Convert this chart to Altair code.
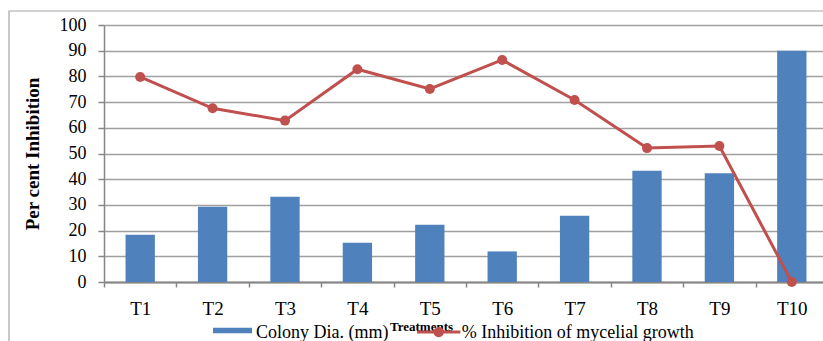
import altair as alt
import pandas as pd

treatments = ["T1", "T2", "T3", "T4", "T5", "T6", "T7", "T8", "T9", "T10"]
colony_dia = [18.4, 29.3, 33.2, 15.3, 22.3, 11.9, 25.8, 43.3, 42.3, 90.0]
inhibition = [79.8, 67.6, 62.8, 82.8, 75.1, 86.4, 70.8, 52.1, 52.9, 0.0]
y_ticks = list(range(0, 101, 10))

bar_name = "Colony Dia. (mm)"
line_name = "% Inhibition of mycelial growth"

df = pd.DataFrame({"Treatment": treatments, "Colony": colony_dia, "Inhibition": inhibition})

SERIF = "Liberation Serif"
BLUE = "#4F81BD"
RED = "#C0504D"
GRID = "#A0A0A0"
AXIS = "#868686"

x_axis = alt.Axis(
    title="Treatments",
    titleFont=SERIF,
    titleFontSize=13,
    titleFontWeight="bold",
    titleColor="black",
    titleX=317,
    titleY=48,
    titleAlign="center",
    titleBaseline="alphabetic",
    labelFont=SERIF,
    labelFontSize=19,
    labelColor="black",
    labelAngle=0,
    labelPadding=12,
    tickBand="extent",
    tickSize=5,
    tickColor=AXIS,
    tickWidth=1.5,
    domainColor=AXIS,
    domainWidth=2,
    grid=False,
)
x_scale = alt.Scale(range=[0, 724], paddingInner=0, paddingOuter=0)


def xenc():
    return alt.X("Treatment:N", sort=treatments, scale=x_scale, axis=x_axis)


y_scale = alt.Scale(domain=[0, 100])
y_axis = alt.Axis(
    values=y_ticks,
    tickCount=11,
    labelOverlap=False,
    title="Per cent Inhibition",
    titleFont=SERIF,
    titleFontSize=19,
    titleFontWeight="bold",
    titleColor="black",
    titleAngle=270,
    titleX=-72,
    titleY=128.5,
    titleAlign="center",
    titleBaseline="middle",
    labelFont=SERIF,
    labelFontSize=18,
    labelColor="black",
    labelPadding=12,
    tickSize=6,
    tickColor=AXIS,
    tickWidth=1.5,
    domainColor=AXIS,
    domainWidth=1.5,
    grid=True,
    gridColor=GRID,
    gridWidth=1.5,
)


def yenc(field):
    return alt.Y(field, type="quantitative", scale=y_scale, axis=y_axis)


def legend(x, y, path, size, offset):
    return alt.Legend(
        orient="none",
        legendX=x,
        legendY=y,
        title=None,
        padding=0,
        labelFont=SERIF,
        labelFontSize=18,
        labelColor="black",
        labelLimit=0,
        labelOffset=offset,
        symbolType=path,
        symbolSize=size,
        symbolStrokeWidth=0,
        symbolOpacity=1,
    )


frame = alt.Chart(pd.DataFrame({"f": [0]})).mark_rect(
    fillOpacity=0, stroke="#A6A6A6", strokeWidth=1.2
).encode(
    x=alt.value(-95), x2=alt.value(760), y=alt.value(-14), y2=alt.value(340)
)

bars = alt.Chart(df).mark_bar(width=alt.RelativeBandSize(0.405), opacity=1).encode(
    x=xenc(),
    y=yenc("Colony"),
    fill=alt.Fill(
        "bar:N",
        scale=alt.Scale(domain=[bar_name], range=[BLUE]),
        legend=legend(109, 288.5, "M-1,-0.272L1,-0.272L1,0.016L-1,0.016Z", 1521, 4),
    ),
).transform_calculate(bar=f"'{bar_name}'")

line = alt.Chart(df).mark_line(color=RED, strokeWidth=3).encode(
    x=xenc(),
    y=yenc("Inhibition"),
)

points = alt.Chart(df).mark_point(filled=True, size=100, opacity=1).encode(
    x=xenc(),
    y=yenc("Inhibition"),
    fill=alt.Fill(
        "ln:N",
        scale=alt.Scale(domain=[line_name], range=[RED]),
        legend=legend(
            312.7,
            286.4,
            "M-1,-0.129L1,-0.129L1,0.009L-1,0.009Z M0.24,-0.06A0.24,0.24 0 1 1 -0.24,-0.06A0.24,0.24 0 1 1 0.24,-0.06Z",
            1875,
            1,
        ),
    ),
).transform_calculate(ln=f"'{line_name}'")

chart = (
    alt.layer(frame, bars, line, points)
    .resolve_scale(fill="independent")
    .properties(
        width=719,
        height=257,
        autosize=alt.AutoSizeParams(type="none"),
        padding={"left": 104, "top": 25, "right": 0, "bottom": 59},
        background="white",
    )
    .configure(font=SERIF)
    .configure_axis(labelFont=SERIF, titleFont=SERIF)
    .configure_legend(labelFont=SERIF, labelLimit=0)
    .configure_view(stroke=None)
)

chart.save("out.html", embed_options={"renderer": "svg", "actions": False})
